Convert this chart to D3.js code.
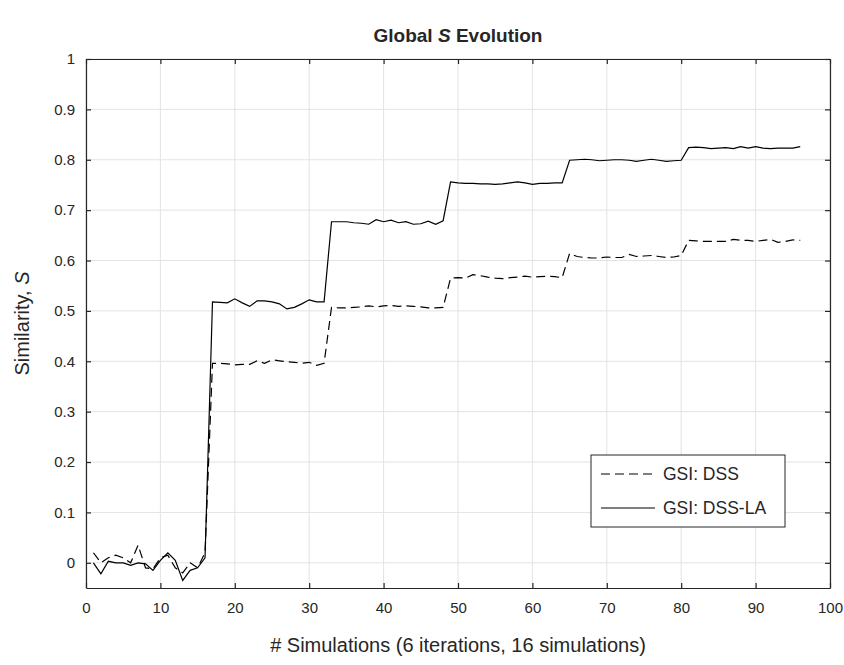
<!DOCTYPE html>
<html>
<head>
<meta charset="utf-8">
<script src="https://cdn.jsdelivr.net/npm/d3@7"></script>
<style>
  body { margin: 0; background: white; }
  text { font-family: "Liberation Sans", Arial, sans-serif; fill: #262626; }
</style>
</head>
<body>
<svg id="chart"></svg>
<script>
// global S evolution, two series over 96 simulations
var W = 844;
var H = 665;
var margin = {top: 59, right: 14, bottom: 77, left: 86};

var simulations = d3.range(1, 97);

var dss = [
  0.02, 0.0, 0.01, 0.015, 0.01, 0.0, 0.035, -0.01, -0.012, 0.01, 0.015, -0.01, -0.02, 0.0, -0.01, 0.02,
  0.396, 0.396, 0.395, 0.393, 0.394, 0.394, 0.401, 0.396, 0.403, 0.401, 0.399, 0.398, 0.396, 0.398, 0.392, 0.396,
  0.507, 0.506, 0.506, 0.507, 0.508, 0.510, 0.508, 0.510, 0.511, 0.509, 0.510, 0.509, 0.508, 0.506, 0.506, 0.507,
  0.565, 0.566, 0.565, 0.572, 0.570, 0.567, 0.565, 0.564, 0.566, 0.567, 0.569, 0.567, 0.568, 0.569, 0.568, 0.566,
  0.614, 0.608, 0.606, 0.605, 0.605, 0.607, 0.606, 0.606, 0.612, 0.608, 0.609, 0.610, 0.608, 0.606, 0.607, 0.610,
  0.640, 0.639, 0.638, 0.638, 0.638, 0.638, 0.642, 0.640, 0.640, 0.638, 0.640, 0.642, 0.636, 0.638, 0.641, 0.640
];

var dssLa = [
  0.0, -0.022, 0.003, 0.0, 0.0, -0.005, 0.0, -0.002, -0.015, 0.005, 0.02, 0.005, -0.035, -0.015, -0.01, 0.01,
  0.518, 0.517, 0.516, 0.524, 0.516, 0.509, 0.520, 0.520, 0.518, 0.514, 0.504, 0.507, 0.514, 0.522, 0.518, 0.518,
  0.677, 0.677, 0.677, 0.675, 0.674, 0.672, 0.681, 0.677, 0.680, 0.675, 0.677, 0.672, 0.673, 0.678, 0.672, 0.679,
  0.756, 0.754, 0.753, 0.753, 0.752, 0.752, 0.751, 0.752, 0.754, 0.756, 0.754, 0.751, 0.753, 0.753, 0.754, 0.754,
  0.799, 0.800, 0.801, 0.800, 0.798, 0.799, 0.800, 0.800, 0.799, 0.797, 0.799, 0.801, 0.799, 0.797, 0.798, 0.799,
  0.824, 0.825, 0.824, 0.822, 0.823, 0.824, 0.822, 0.826, 0.823, 0.826, 0.823, 0.822, 0.823, 0.823, 0.823, 0.826
];

var xTicks = d3.range(0, 101, 10);
var yTicks = [0, 0.1, 0.2, 0.3, 0.4, 0.5, 0.6, 0.7, 0.8, 0.9, 1];
var seriesNames = ["GSI: DSS", "GSI: DSS-LA"];

var svg = d3.select("#chart")
  .attr("width", W)
  .attr("height", H);

svg.append("rect")
  .attr("width", "100%")
  .attr("height", "100%")
  .attr("fill", "white");

var x = d3.scaleLinear()
  .domain([0, 100])
  .range([margin.left, W - margin.right]);

var y = d3.scaleLinear()
  .domain([-0.05, 1])
  .range([H - margin.bottom, margin.top]);

// grid
svg.append("g")
  .selectAll("line.gx")
  .data(xTicks)
  .enter().append("line")
  .attr("x1", d => x(d)).attr("x2", d => x(d))
  .attr("y1", margin.top).attr("y2", H - margin.bottom)
  .attr("stroke", "#e3e3e3")
  .attr("stroke-width", 1);

svg.append("g")
  .selectAll("line.gy")
  .data(yTicks)
  .enter().append("line")
  .attr("y1", d => y(d)).attr("y2", d => y(d))
  .attr("x1", margin.left).attr("x2", W - margin.right)
  .attr("stroke", "#e3e3e3")
  .attr("stroke-width", 1);

// axes, ticks inside like matlab
var tickLen = 5;

var xAxis = g => g
  .attr("transform", `translate(0,${H - margin.bottom})`)
  .call(d3.axisBottom(x).tickValues(xTicks).tickSizeInner(-tickLen).tickSizeOuter(0).tickPadding(14))
  .call(g => g.selectAll("text").style("font-size", "15px").attr("fill", "#262626"));

var xAxisTop = g => g
  .attr("transform", `translate(0,${margin.top})`)
  .call(d3.axisTop(x).tickValues(xTicks).tickSizeInner(-tickLen).tickSizeOuter(0).tickFormat(""));

var yAxis = g => g
  .attr("transform", `translate(${margin.left},0)`)
  .call(d3.axisLeft(y).tickValues(yTicks).tickSizeInner(-tickLen).tickSizeOuter(0).tickPadding(11)
    .tickFormat(d => d3.format("~g")(d)))
  .call(g => g.selectAll("text").style("font-size", "15px").attr("fill", "#262626"));

var yAxisRight = g => g
  .attr("transform", `translate(${W - margin.right},0)`)
  .call(d3.axisRight(y).tickValues(yTicks).tickSizeInner(-tickLen).tickSizeOuter(0).tickFormat(""));

[xAxis, xAxisTop, yAxis, yAxisRight].forEach(a => {
  svg.append("g")
    .call(a)
    .call(g => g.select(".domain").attr("stroke", "#262626").attr("stroke-width", 1.2))
    .call(g => g.selectAll(".tick line").attr("stroke", "#262626").attr("stroke-width", 1.2))
    .style("font-family", "'Liberation Sans', Arial, sans-serif");
});

// lines
var line = d3.line()
  .x((d, i) => x(simulations[i]))
  .y(d => y(d));

svg.append("path")
  .datum(dss)
  .attr("fill", "none")
  .attr("stroke", "black")
  .attr("stroke-width", 1.2)
  .attr("stroke-dasharray", "9,5")
  .attr("d", line);

svg.append("path")
  .datum(dssLa)
  .attr("fill", "none")
  .attr("stroke", "black")
  .attr("stroke-width", 1.2)
  .attr("d", line);

// legend
var legend = svg.append("g")
  .attr("transform", "translate(591,455)");

legend.append("rect")
  .attr("width", 194)
  .attr("height", 72)
  .attr("fill", "white")
  .attr("stroke", "#262626")
  .attr("stroke-width", 1);

legend.selectAll("g.item")
  .data(seriesNames)
  .enter().append("g")
  .attr("transform", (d, i) => `translate(0,${19 + i * 34})`)
  .each(function (d, i) {
    var g = d3.select(this);
    g.append("line")
      .attr("x1", 10).attr("x2", 64)
      .attr("stroke", "black")
      .attr("stroke-width", 1.2)
      .attr("stroke-dasharray", i == 0 ? "9,5" : null);
    g.append("text")
      .attr("x", 72)
      .attr("dy", "0.35em")
      .style("font-size", "17.5px")
      .text(d);
  });

// title and labels
var title = svg.append("text")
  .attr("x", (margin.left + W - margin.right) / 2)
  .attr("y", 42)
  .attr("text-anchor", "middle")
  .style("font-size", "19px")
  .style("font-weight", "bold");
title.append("tspan").text("Global ");
title.append("tspan").style("font-style", "italic").text("S");
title.append("tspan").text(" Evolution");

svg.append("text")
  .attr("x", (margin.left + W - margin.right) / 2)
  .attr("y", 652)
  .attr("text-anchor", "middle")
  .style("font-size", "20px")
  .text("# Simulations (6 iterations, 16 simulations)");

var ylab = svg.append("text")
  .attr("transform", `translate(29,${(margin.top + H - margin.bottom) / 2}) rotate(-90)`)
  .attr("text-anchor", "middle")
  .style("font-size", "20px");
ylab.append("tspan").text("Similarity, ");
ylab.append("tspan").style("font-style", "italic").text("S");
</script>
</body>
</html>
